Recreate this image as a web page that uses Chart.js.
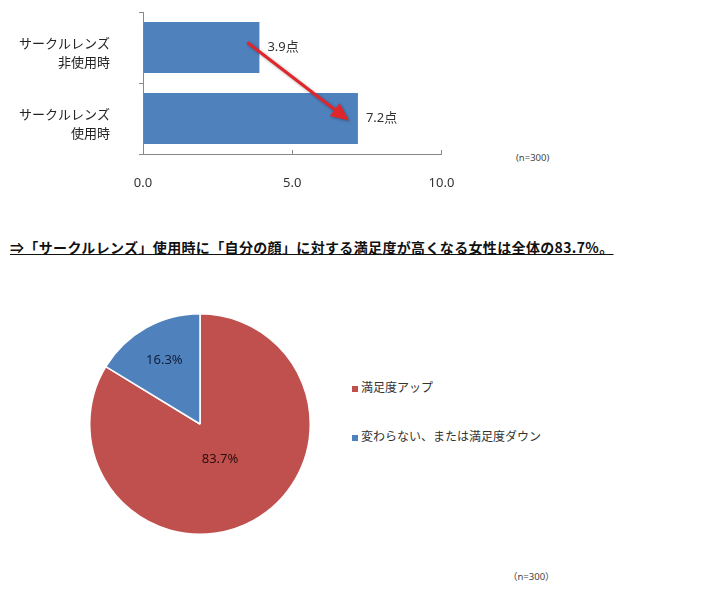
<!DOCTYPE html>
<html>
<head>
<meta charset="utf-8">
<script src="https://cdn.jsdelivr.net/npm/chart.js@4"></script>
<style>
  body { margin: 0; background: #fff; width: 720px; height: 605px; position: relative; overflow: hidden;
         font-family: "Noto Sans", "Noto Sans CJK JP", sans-serif; color: #333; }
  .abs { position: absolute; }
  #title { left: 10px; top: 237px; font-size: 14px; font-weight: bold; color: #111;
           text-decoration: underline; white-space: nowrap; line-height: 20px; letter-spacing: 0.35px;
           font-family: "Noto Sans CJK JP", sans-serif; }
  .note { font-size: 9.5px; color: #444; white-space: nowrap; }
  #legend { left: 352px; top: 377px; font-size: 12px; font-family: "Noto Sans CJK JP", sans-serif; color: #333; }
  #legend div { height: 20px; line-height: 20px; margin-bottom: 29px; white-space: nowrap; }
  #legend span { display: inline-block; width: 6px; height: 6px; margin-right: 3px; vertical-align: middle; }
</style>
</head>
<body>
<canvas id="bar-canvas" class="abs" style="left:0;top:0" width="470" height="200"></canvas>
<div class="abs note" style="left:516px;top:151px">(n=300)</div>
<div id="title" class="abs">⇒「サークルレンズ」使用時に「自分の顔」に対する満足度が高くなる女性は全体の83.7%。</div>
<canvas id="pie-canvas" class="abs" style="left:89px;top:313px" width="222" height="222"></canvas>
<div id="legend" class="abs"></div>
<div class="abs note" style="left:508px;top:569px">（n=300）</div>

<script>
// bar chart data
var barLabels = [['サークルレンズ', '非使用時'], ['サークルレンズ', '使用時']];
var barValues = [3.9, 7.2];
var barUnit = '点';

// pie chart data
var pieLabels = ['満足度アップ', '変わらない、または満足度ダウン'];
var pieValues = [83.7, 16.3];

var blue = '#4F81BD';
var red = '#C0504D';

// value labels next to the bars + red arrow between them
var barExtras = {
  id: 'barExtras',
  afterDatasetsDraw: function (chart) {
    let ctx = chart.ctx;
    let bars = chart.getDatasetMeta(0).data;
    ctx.save();
    ctx.font = '13px "Noto Sans", "Noto Sans CJK JP"';
    ctx.fillStyle = '#333';
    ctx.textBaseline = 'middle';
    bars.forEach((bar, i) => {
      ctx.fillText(barValues[i].toFixed(1) + barUnit, bar.x + 8, bar.y);
    });

    let x1 = bars[0].x - 12, y1 = bars[0].y - 5;
    let x2 = bars[1].x - 9, y2 = bars[1].y + 2;
    let ang = Math.atan2(y2 - y1, x2 - x1);
    let headLen = 18, headW = 8;
    let bx = x2 - Math.cos(ang) * headLen, by = y2 - Math.sin(ang) * headLen;
    ctx.shadowColor = 'rgba(0,0,0,0.35)';
    ctx.shadowBlur = 3;
    ctx.shadowOffsetX = 1;
    ctx.shadowOffsetY = 1;
    ctx.strokeStyle = '#E0262B';
    ctx.fillStyle = '#E0262B';
    ctx.lineWidth = 3;
    ctx.beginPath();
    ctx.moveTo(x1, y1);
    ctx.lineTo(bx, by);
    ctx.stroke();
    ctx.beginPath();
    ctx.moveTo(x2, y2);
    ctx.lineTo(bx + Math.sin(ang) * headW, by - Math.cos(ang) * headW);
    ctx.lineTo(bx - Math.sin(ang) * headW, by + Math.cos(ang) * headW);
    ctx.closePath();
    ctx.fill();
    ctx.restore();
  }
};

new Chart(document.querySelector('#bar-canvas'), {
  type: 'bar',
  data: {
    labels: barLabels,
    datasets: [{
      data: barValues,
      backgroundColor: blue,
      barPercentage: 0.72,
      categoryPercentage: 1
    }]
  },
  options: {
    indexAxis: 'y',
    responsive: false,
    animation: false,
    layout: { padding: { top: 12, right: 28.5, bottom: 0, left: 0 } },
    plugins: { legend: { display: false }, tooltip: { enabled: false } },
    scales: {
      x: {
        min: 0, max: 10,
        ticks: {
          stepSize: 5,
          padding: 25,
          color: '#333',
          font: { size: 13, family: '"Noto Sans"' },
          callback: function (v) { return v.toFixed(1); }
        },
        grid: { drawOnChartArea: false, drawTicks: true, tickLength: -4, color: '#888' },
        border: { color: '#888' },
        afterFit: function (scale) {
          scale.height = 46;
          scale.paddingLeft = 0;
          scale.paddingRight = 0;
        }
      },
      y: {
        ticks: {
          padding: 29,
          labelOffset: 5,
          color: '#222',
          font: { size: 13, family: '"Noto Sans CJK JP"', lineHeight: 1.45 }
        },
        grid: { drawOnChartArea: false, drawTicks: true, tickLength: 4, offset: true, color: '#888' },
        border: { color: '#888' },
        afterFit: function (scale) {
          scale.width = 143;
          scale.paddingTop = 0;
          scale.paddingBottom = 0;
        }
      }
    }
  },
  plugins: [barExtras]
});

// percentage labels inside the pie slices
var pieRadius = [0.37, 0.66];
var pieText = {
  id: 'pieText',
  afterDatasetsDraw: function (chart) {
    let ctx = chart.ctx;
    let arcs = chart.getDatasetMeta(0).data;
    ctx.save();
    ctx.font = '13px "Noto Sans"';
    ctx.textAlign = 'center';
    ctx.textBaseline = 'middle';
    arcs.forEach((arc, i) => {
      let mid = (arc.startAngle + arc.endAngle) / 2;
      let r = arc.outerRadius * pieRadius[i];
      ctx.fillStyle = i === 0 ? '#2a0d0d' : '#0f1f3a';
      ctx.fillText(pieValues[i].toFixed(1) + '%', arc.x + Math.cos(mid) * r, arc.y + Math.sin(mid) * r);
    });
    ctx.restore();
  }
};

var pieChart = new Chart(document.querySelector('#pie-canvas'), {
  type: 'pie',
  data: {
    labels: pieLabels,
    datasets: [{
      data: pieValues,
      backgroundColor: [red, blue],
      borderColor: '#fff',
      borderWidth: 1.5
    }]
  },
  options: {
    responsive: false,
    animation: false,
    plugins: { legend: { display: false }, tooltip: { enabled: false } }
  },
  plugins: [pieText]
});

// html legend from the chart's own labels/colours
var legendBox = document.querySelector('#legend');
pieChart.data.labels.forEach((label, i) => {
  let row = document.createElement('div');
  let sw = document.createElement('span');
  sw.style.background = pieChart.data.datasets[0].backgroundColor[i];
  row.appendChild(sw);
  row.appendChild(document.createTextNode(label));
  legendBox.appendChild(row);
});
</script>
</body>
</html>
